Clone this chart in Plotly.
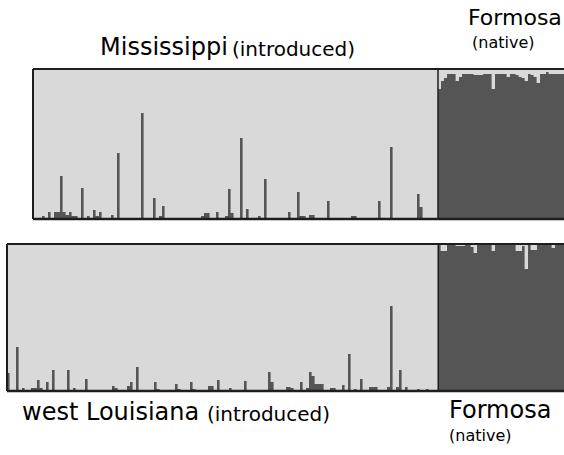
import plotly.graph_objects as go

# ---------------- data ----------------
# Mississippi (introduced): fraction of dark cluster per individual
ms_intro = [0.0] * 135
ms_intro_vals = {1: 0.01, 3: 0.02, 5: 0.05, 7: 0.05, 8: 0.05, 9: 0.29, 10: 0.05, 11: 0.03,
                 12: 0.05, 13: 0.02, 14: 0.02, 16: 0.21, 18: 0.02, 20: 0.06, 21: 0.02,
                 22: 0.05, 26: 0.03, 28: 0.44, 33: 0.01, 36: 0.71, 40: 0.14, 42: 0.02,
                 43: 0.09, 56: 0.02, 57: 0.04, 58: 0.04, 61: 0.05, 64: 0.02, 65: 0.20,
                 66: 0.04, 69: 0.54, 71: 0.07, 75: 0.02, 77: 0.27, 85: 0.05, 88: 0.18,
                 89: 0.02, 90: 0.02, 92: 0.03, 93: 0.03, 98: 0.12, 101: 0.01, 106: 0.02,
                 107: 0.02, 115: 0.12, 119: 0.48, 128: 0.17, 129: 0.08, 131: 0.01, 132: 0.01}
for k, v in ms_intro_vals.items():
    ms_intro[k] = v

# Formosa (native) in Mississippi panel: fraction of light cluster per individual
ms_formosa_light = [0.13, 0.08, 0.06, 0.03, 0.03, 0.03, 0.08, 0.05, 0.03, 0.03, 0.03, 0.03,
                    0.04, 0.04, 0.04, 0.03, 0.03, 0.03, 0.13, 0.03, 0.03, 0.03, 0.03, 0.05,
                    0.035, 0.035, 0.04, 0.055, 0.06, 0.08, 0.035, 0.04, 0.055, 0.09, 0.035,
                    0.035, 0.02, 0.035, 0.035, 0.03, 0.03, 0.03]

# west Louisiana (introduced)
wl_intro = [0.0] * 144
wl_intro_vals = {0: 0.12, 3: 0.30, 5: 0.02, 8: 0.02, 9: 0.02, 10: 0.075, 11: 0.02, 13: 0.06,
                 15: 0.14, 20: 0.14, 22: 0.02, 26: 0.085, 35: 0.035, 36: 0.02, 40: 0.035,
                 41: 0.06, 43: 0.16, 49: 0.06, 50: 0.015, 56: 0.045, 57: 0.015, 61: 0.06,
                 62: 0.015, 67: 0.035, 68: 0.035, 70: 0.075, 74: 0.02, 79: 0.07, 87: 0.13,
                 88: 0.06, 93: 0.03, 94: 0.03, 95: 0.02, 98: 0.06, 100: 0.02, 101: 0.13,
                 102: 0.10, 103: 0.045, 104: 0.045, 105: 0.045, 108: 0.02, 109: 0.02,
                 112: 0.04, 114: 0.25, 116: 0.015, 118: 0.085, 121: 0.025, 122: 0.025,
                 123: 0.025, 127: 0.03, 128: 0.58, 130: 0.025, 131: 0.14, 133: 0.025,
                 137: 0.015, 140: 0.015}
for k, v in wl_intro_vals.items():
    wl_intro[k] = v

wl_formosa_light = [0.0] * 42
wl_formosa_vals = {1: 0.045, 2: 0.045, 6: 0.015, 7: 0.015, 8: 0.015, 11: 0.02, 12: 0.06,
                   18: 0.05, 26: 0.045, 27: 0.045, 28: 0.015, 29: 0.17, 31: 0.04, 32: 0.04,
                   38: 0.025}
for k, v in wl_formosa_vals.items():
    wl_formosa_light[k] = v

# ---------------- styles ----------------
LIGHT = "#d9d9d9"
DARK = "#555555"
BORDER = "#1e1e1e"
FONT = "DejaVu Sans, Verdana, sans-serif"
W, H = 564, 455


def panel(intro, formosa_light):
    dark = list(intro) + [1 - v for v in formosa_light]
    light = [1 - d for d in dark]
    x = list(range(len(dark)))
    return x, dark, light


fig = go.Figure()
panels = [
    (ms_intro, ms_formosa_light, "x", "y", (33, 69, 219)),
    (wl_intro, wl_formosa_light, "x2", "y2", (7, 244, 391)),
]
for intro, fl, xa, ya, _ in panels:
    x, dark, light = panel(intro, fl)
    fig.add_trace(go.Bar(x=x, y=dark, xaxis=xa, yaxis=ya,
                         marker=dict(color=DARK, line=dict(color=DARK, width=0.4)),
                         hoverinfo="skip", showlegend=False))
    fig.add_trace(go.Bar(x=x, y=light, xaxis=xa, yaxis=ya,
                         marker=dict(color=LIGHT, line=dict(color=LIGHT, width=0.4)),
                         hoverinfo="skip", showlegend=False))

n1 = len(ms_intro) + len(ms_formosa_light)
n2 = len(wl_intro) + len(wl_formosa_light)
fig.update_layout(
    width=W, height=H, margin=dict(l=0, r=0, t=0, b=0),
    paper_bgcolor="white", plot_bgcolor="white",
    barmode="stack", bargap=0,
    xaxis=dict(domain=[33 / W, 1], range=[-0.5, n1 - 0.5], visible=False),
    yaxis=dict(domain=[1 - 219 / H, 1 - 69 / H], range=[0, 1], visible=False),
    xaxis2=dict(domain=[7 / W, 1], range=[-0.5, n2 - 0.5], visible=False, anchor="y2"),
    yaxis2=dict(domain=[1 - 391 / H, 1 - 244 / H], range=[0, 1], visible=False, anchor="x2"),
)

shapes = []
for intro, fl, xa, ya, (left, top, bot) in panels:
    xl = left / W
    yt = 1 - top / H
    yb = 1 - bot / H
    shapes += [
        dict(type="line", xref="paper", yref="paper", x0=xl, x1=1.01, y0=yt, y1=yt,
             line=dict(color=BORDER, width=2)),
        dict(type="line", xref="paper", yref="paper", x0=xl, x1=1.01, y0=yb, y1=yb,
             line=dict(color=BORDER, width=2.5)),
        dict(type="line", xref="paper", yref="paper", x0=xl, x1=xl, y0=yb, y1=yt,
             line=dict(color=BORDER, width=2)),
        dict(type="line", xref=xa, yref="paper", x0=len(intro) - 0.5, x1=len(intro) - 0.5,
             y0=yb, y1=yt, line=dict(color=BORDER, width=1.5)),
    ]
fig.update_layout(shapes=shapes)

ann = []


def txt(t, x, y, size, xanchor="left"):
    ann.append(dict(text=t, xref="paper", yref="paper", x=x / W, y=1 - y / H, xanchor=xanchor,
                    yanchor="middle", showarrow=False,
                    font=dict(family=FONT, size=size, color="black")))


txt("Mississippi", 98, 47, 24)
txt("(introduced)", 230, 49, 20)
txt("Formosa", 564, 18, 22, xanchor="right")
txt("(native)", 470, 42, 16)
txt("west Louisiana", 20, 412, 24)
txt("(introduced)", 205, 414, 20)
txt("Formosa", 447, 410, 24)
txt("(native)", 447, 435, 16)
fig.update_layout(annotations=ann)

fig.write_html("out.html", config={"displayModeBar": False},
               post_script="document.body.style.margin='0';document.body.style.overflow='hidden';")
